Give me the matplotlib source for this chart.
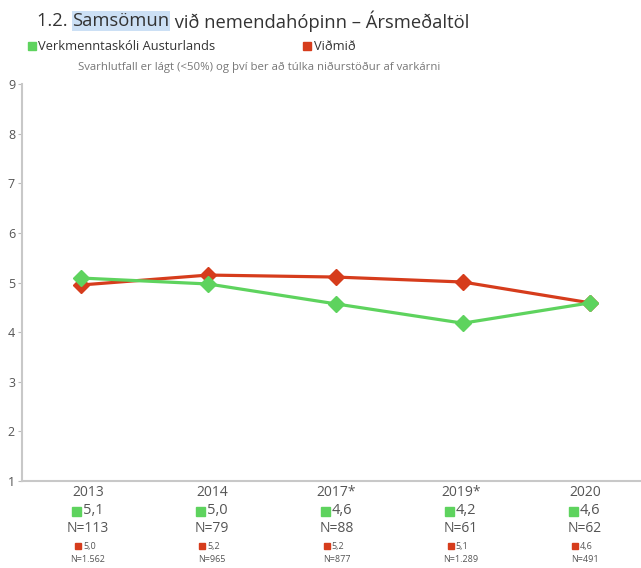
import matplotlib.pyplot as plt
from matplotlib.patches import Rectangle

years = ["2013", "2014", "2017*", "2019*", "2020"]
school = [5.09, 4.97, 4.57, 4.18, 4.59]
norm = [4.95, 5.15, 5.11, 5.01, 4.59]
school_lbl = ["5,1", "5,0", "4,6", "4,2", "4,6"]
school_n = ["N=113", "N=79", "N=88", "N=61", "N=62"]
norm_lbl = ["5,0", "5,2", "5,2", "5,1", "4,6"]
norm_n = ["N=1.562", "N=965", "N=877", "N=1.289", "N=491"]

GREEN = "#5ed35e"
RED = "#d63c1c"
GREY = "#555555"
plt.rcParams["font.family"] = ["Open Sans", "DejaVu Sans"]

W, H = 641, 568
fig = plt.figure(figsize=(W / 100, H / 100), dpi=100)
ax = fig.add_axes([22 / W, 1 - 481 / H, 1 - 22 / W, (481 - 84) / H])

x = list(range(len(years)))
ax.plot(x, norm, color=RED, lw=2.3, marker="D", ms=8, zorder=3)
ax.plot(x, school, color=GREEN, lw=2.3, marker="D", ms=8, zorder=4)

ax.set_xlim(-0.464, 4.40)
ax.set_ylim(1, 9)
ax.set_yticks(range(1, 10))
ax.set_xticks([])
ax.tick_params(axis="y", length=3, color="#bbbbbb", labelsize=9, labelcolor=GREY, pad=2)
for s in ["top", "right"]:
    ax.spines[s].set_visible(False)
for s in ["left", "bottom"]:
    ax.spines[s].set_color("#c8c8c8")
    ax.spines[s].set_linewidth(1.5)


def fy(py):
    return 1 - py / H


def square(px, py, size, color):
    # px, py = top-left corner in pixels
    fig.patches.append(Rectangle((px / W, fy(py + size)), size / W, size / H,
                                 transform=fig.transFigure, color=color))


# labels under the axis (evenly spaced columns)
for i in x:
    cx = 88 + i * 124.25
    fig.text(cx / W, fy(493), years[i], ha="center", va="center", fontsize=10, color=GREY)
    square(cx - 16, 507, 9, GREEN)
    fig.text((cx - 5) / W, fy(511), school_lbl[i], ha="left", va="center", fontsize=10.5, color=GREY)
    fig.text(cx / W, fy(528), school_n[i], ha="center", va="center", fontsize=10, color=GREY)
    square(cx - 13, 543, 6, RED)
    fig.text((cx - 5) / W, fy(546), norm_lbl[i], ha="left", va="center", fontsize=6.5, color=GREY)
    fig.text(cx / W, fy(560), norm_n[i], ha="center", va="center", fontsize=6.5, color=GREY)

# title with highlighted word
r = fig.canvas.get_renderer()
t1 = fig.text(37 / W, fy(21), "1.2. ", ha="left", va="center", fontsize=13.2, color="#333333")
bb = t1.get_window_extent(r)
t2 = fig.text(bb.x1 / W, fy(21), "Samsömun", ha="left", va="center", fontsize=13.2, color="#333333",
              bbox=dict(facecolor="#cce0f5", edgecolor="none", pad=0.5))
bb = t2.get_window_extent(r)
fig.text(bb.x1 / W, fy(21), " við nemendahópinn – Ársmeðaltöl", ha="left", va="center",
         fontsize=13.2, color="#333333")

square(28, 42, 8, GREEN)
fig.text(38 / W, fy(46), "Verkmenntaskóli Austurlands", ha="left", va="center", fontsize=9.3, color="#333333")
square(303, 42, 8, RED)
fig.text(314 / W, fy(46), "Viðmið", ha="left", va="center", fontsize=9.3, color="#333333")
fig.text(78 / W, fy(67), "Svarhlutfall er lágt (<50%) og því ber að túlka niðurstöður af varkárni",
         ha="left", va="center", fontsize=8.2, color="#777777")

fig.savefig("out.png", dpi=100)
